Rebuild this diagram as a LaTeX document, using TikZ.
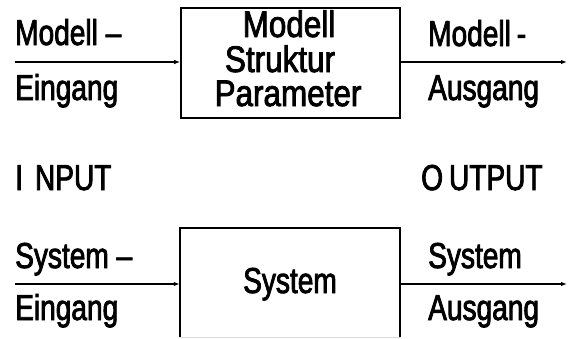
\documentclass[tikz,border=0pt]{standalone}
\usepackage{fontspec}
\setmainfont{Liberation Sans}[FakeStretch=0.78,FakeBold=2.2]
\newfontfamily\blockface{Liberation Sans}[FakeStretch=0.85,FakeBold=2.2]
\usetikzlibrary{arrows.meta}
\begin{document}
\begin{tikzpicture}[x=1pt,y=-1pt,
  lbl/.style={anchor=base west,inner sep=0pt,font=\fontsize{36}{36}\selectfont},
  boxtxt/.style={anchor=base,inner sep=0pt,font=\blockface\fontsize{37}{37}\selectfont},
  blockbox/.style={draw,line width=1.6pt,minimum width=219pt,minimum height=110pt,inner sep=0pt},
  sig/.style={line width=1.3pt,-{Latex[length=6pt,width=4.5pt]}}]
\useasboundingbox (0,0) rectangle (571,338);

% model block (top row)
\node[blockbox] (mbox) at (290.5,63) {};
\node[boxtxt] (mt1) at (289,37) {Modell};
\node[boxtxt] (mt2) at (280,72) {Struktur};
\node[boxtxt] (mt3) at (288,106) {Parameter};
\coordinate (min) at (15,62);
\coordinate (mout) at (567,62);
\draw[sig] (min) -- (min -| mbox.west);
\draw[sig] (mbox.east |- mout) -- (mout);
\node[lbl] (ml1) at (15,45) {Modell –};
\node[lbl] (ml2) at (15,100) {Eingang};
\node[lbl] (mr1) at (428,46) {Modell\,-};
\node[lbl] (mr2) at (428,100) {Ausgang};

% row captions
\node[lbl] (inp) at (15,190) {I\,\,NPUT};
\node[lbl] (outp) at (421,190) {O\,UTPUT};

% system block (bottom row, lower edge at the page border)
\node[minimum width=220pt,minimum height=109pt,inner sep=0pt] (sbox) at (290,282.5) {};
\draw[line width=1.6pt] (sbox.south west) -- (sbox.north west) -- (sbox.north east) -- (sbox.south east);
\draw[black!15,line width=1pt] (sbox.south west) -- (sbox.south east);
\node[lbl,anchor=base] (stxt) at (290,293) {System};
\coordinate (sin) at (15,284);
\coordinate (sout) at (567,284);
\draw[sig] (sin) -- (sin -| sbox.west);
\draw[sig] (sbox.east |- sout) -- (sout);
\node[lbl] (sl1) at (15,268) {System –};
\node[lbl] (sl2) at (15,320) {Eingang};
\node[lbl] (sr1) at (428,268) {System};
\node[lbl] (sr2) at (428,320) {Ausgang};
\end{tikzpicture}
\end{document}
